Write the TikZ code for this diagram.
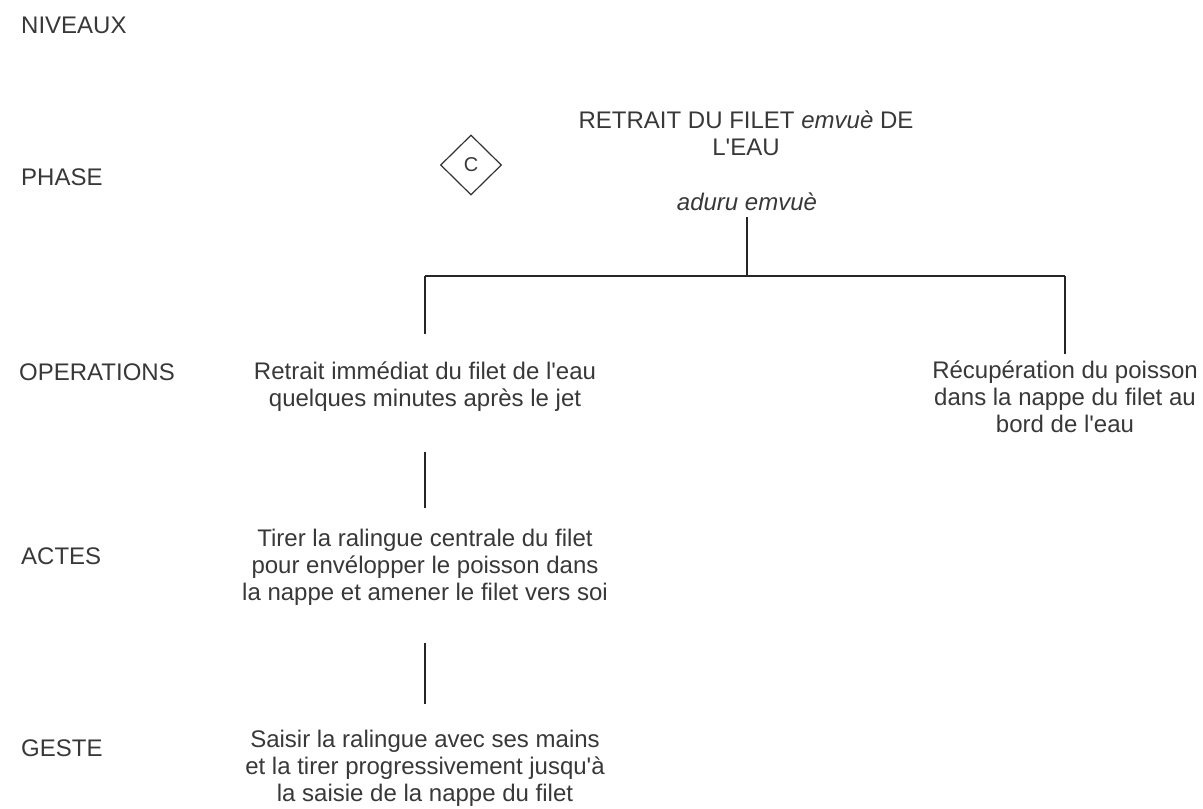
\documentclass[tikz,border=0pt]{standalone}
\usepackage{fontspec}
\setmainfont{Liberation Sans}[Ligatures=TeXOff]
\usetikzlibrary{shapes.geometric}

\begin{document}
\begin{tikzpicture}[x=1pt,y=-1pt,
  txt/.style={text=black!78,font=\fontsize{24}{26.8}\selectfont,inner sep=0pt},
  lvl/.style={txt,anchor=base west},
  blk/.style={txt,align=center,anchor=base},
  link/.style={draw=black!85,line width=1.5pt}]
  \useasboundingbox (0,0) rectangle (1203,809);
  % niveaux
  \node[lvl] (niveaux) at (21,33) {NIVEAUX};
  \node[lvl] (phase) at (21,185) {PHASE};
  \node[lvl] (operations) at (19,380) {OPERATIONS};
  \node[lvl] (actes) at (21,564) {ACTES};
  \node[lvl] (geste) at (21,756) {GESTE};
  % phase
  \node[diamond,draw=black!80,line width=1.2pt,minimum width=61pt,minimum height=60pt,
    inner sep=0pt,text=black!78,font=\fontsize{20}{22}\selectfont] (code) at (471,165) {C};
  \node[blk] (titre) at (746,155) {RETRAIT DU FILET \textit{emvuè} DE\\L'EAU};
  \node[blk] (aduru) at (747,210) {\textit{aduru emvuè}};
  % operations
  \node[blk] (retrait) at (425,406) {Retrait immédiat du filet de l'eau\\quelques minutes après le jet};
  \node[blk] (recup) at (1065,432) {Récupération du poisson\\dans la nappe du filet au\\bord de l'eau};
  % actes et geste
  \node[blk] (tirer) at (425,600) {Tirer la ralingue centrale du filet\\pour envélopper le poisson dans\\la nappe et amener le filet vers soi};
  \node[blk] (saisir) at (425,801) {Saisir la ralingue avec ses mains\\et la tirer progressivement jusqu'à\\la saisie de la nappe du filet};
  % liens
  \coordinate (hub) at (747,276);
  \coordinate (hubL) at (425,276);
  \coordinate (hubR) at (1065,276);
  \draw[link,shorten <=7pt] (aduru.south) -- (hub);
  \draw[link] (hubL) -- (hubR);
  \draw[link,shorten >=27pt] (hubL) -- (retrait.north);
  \draw[link,shorten >=7pt] (hubR) -- (recup.north);
  \draw[link,shorten <=41pt,shorten >=21pt] (retrait.south) -- (tirer.north);
  \draw[link,shorten <=38pt,shorten >=26pt] (tirer.south) -- (saisir.north);
\end{tikzpicture}
\end{document}
